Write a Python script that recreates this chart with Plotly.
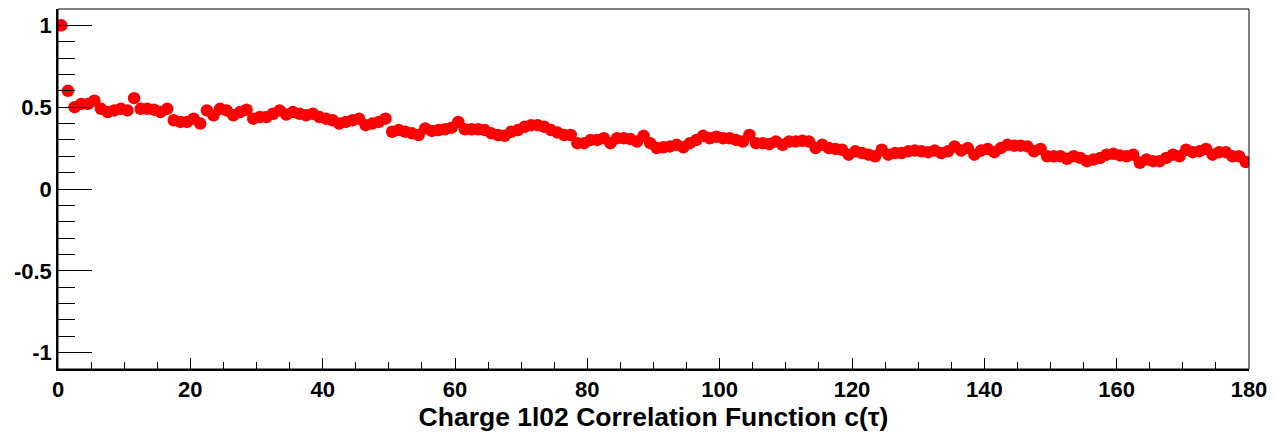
import plotly.graph_objects as go

# Lag values (bin centres) and correlation values
tau = [i + 0.5 for i in range(180)]

corr_0_59 = [1.00, 0.60, 0.50, 0.52, 0.52, 0.54, 0.49, 0.47, 0.48, 0.49,
             0.48, 0.555, 0.49, 0.49, 0.485, 0.47, 0.49, 0.42, 0.41, 0.41,
             0.43, 0.40, 0.48, 0.45, 0.49, 0.48, 0.45, 0.47, 0.485, 0.43,
             0.44, 0.44, 0.46, 0.48, 0.455, 0.47, 0.46, 0.45, 0.46, 0.44,
             0.43, 0.42, 0.40, 0.41, 0.42, 0.43, 0.39, 0.40, 0.41, 0.43,
             0.35, 0.36, 0.35, 0.34, 0.33, 0.37, 0.355, 0.36, 0.365, 0.375]
corr_60_119 = [0.41, 0.365, 0.365, 0.365, 0.36, 0.34, 0.33, 0.325, 0.35, 0.36,
               0.38, 0.39, 0.39, 0.38, 0.36, 0.345, 0.33, 0.33, 0.28, 0.28,
               0.30, 0.30, 0.31, 0.28, 0.31, 0.31, 0.305, 0.29, 0.325, 0.28,
               0.25, 0.255, 0.26, 0.27, 0.255, 0.28, 0.30, 0.325, 0.31, 0.32,
               0.31, 0.31, 0.30, 0.29, 0.33, 0.28, 0.28, 0.275, 0.29, 0.27,
               0.29, 0.29, 0.295, 0.29, 0.25, 0.27, 0.25, 0.245, 0.24, 0.21]
corr_120_179 = [0.23, 0.22, 0.21, 0.20, 0.24, 0.21, 0.22, 0.22, 0.23, 0.235,
                0.23, 0.225, 0.235, 0.22, 0.23, 0.26, 0.235, 0.25, 0.21, 0.235,
                0.245, 0.225, 0.25, 0.27, 0.265, 0.265, 0.26, 0.23, 0.245, 0.20,
                0.20, 0.20, 0.185, 0.20, 0.19, 0.17, 0.18, 0.19, 0.21, 0.215,
                0.205, 0.20, 0.21, 0.16, 0.18, 0.17, 0.17, 0.19, 0.21, 0.20,
                0.24, 0.225, 0.23, 0.245, 0.21, 0.225, 0.225, 0.20, 0.20, 0.165]
corr = corr_0_59 + corr_60_119 + corr_120_179

x_ticks = [0, 20, 40, 60, 80, 100, 120, 140, 160, 180]
y_ticks = [-1, -0.5, 0, 0.5, 1]
y_tick_text = ["-1", "-0.5", "0", "0.5", "1"]
x_title = "Charge 1l02 Correlation Function c(\u03c4)"

fig = go.Figure()
fig.add_trace(go.Scatter(
    x=tau, y=corr, mode="markers",
    marker=dict(color="#ff0000", size=12.5, symbol="circle", line=dict(width=0)),
    showlegend=False, hoverinfo="x+y",
))

font_family = "Liberation Sans, Arial, sans-serif"
tick_font = dict(family=font_family, size=22, color="#000000", weight="bold")

fig.update_layout(
    width=1276, height=433,
    margin=dict(l=58, r=23, t=9, b=64),
    paper_bgcolor="#ffffff", plot_bgcolor="#ffffff",
    xaxis=dict(
        range=[0, 180], tickvals=x_ticks, ticktext=[str(v) for v in x_ticks],
        ticks="inside", ticklen=11, tickwidth=1.2, tickcolor="#000000",
        minor=dict(dtick=5, tick0=0, ticks="inside", ticklen=7, tickwidth=1.2, tickcolor="#000000", showgrid=False),
        showgrid=False, zeroline=False,
        showline=True, linecolor="#000000", linewidth=1.6, mirror=False,
        tickfont=tick_font,
        title=dict(text=x_title, font=dict(family=font_family, size=26.5, color="#000000", weight="bold"), standoff=3),
    ),
    yaxis=dict(
        range=[-1.1, 1.1], tickvals=y_ticks, ticktext=y_tick_text,
        ticks="inside", ticklen=34, tickwidth=1.2, tickcolor="#000000",
        minor=dict(dtick=0.1, tick0=0, ticks="inside", ticklen=17, tickwidth=1.2, tickcolor="#000000", showgrid=False),
        showgrid=False, zeroline=False,
        showline=True, linecolor="#000000", linewidth=1.6, mirror=False,
        tickfont=tick_font,
    ),
    shapes=[dict(type="rect", xref="paper", yref="paper", x0=0, y0=0, x1=1, y1=1,
                 line=dict(color="#000000", width=1), fillcolor="rgba(0,0,0,0)", layer="above")],
)

fig.write_html("out.html")
